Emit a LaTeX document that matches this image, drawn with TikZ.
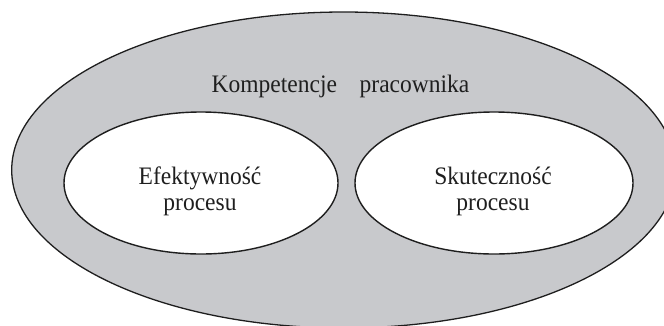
\documentclass[tikz,border=0pt]{standalone}
\usepackage{fontspec}
\setmainfont{Liberation Serif}
\usetikzlibrary{shapes.geometric}
\definecolor{fillgray}{RGB}{200,201,204}
\definecolor{edge}{RGB}{30,30,30}
\newcommand{\tallt}[1]{\scalebox{1}[1.07]{#1}}
\tikzset{
  outerell/.style={draw=edge, line width=1.3pt, fill=fillgray, ellipse, inner sep=0pt},
  innerell/.style={draw=edge, line width=1.4pt, fill=white, ellipse, inner sep=0pt},
  lbl/.style={font=\fontsize{23.5}{26}\selectfont, text=black!88, inner sep=0pt, anchor=base}
}
\begin{document}
\begin{tikzpicture}[x=1pt,y=-1pt]
\useasboundingbox (0,0) rectangle (664,325);
\clip (0,0) rectangle (664,325);
\node[outerell, minimum width=664pt, minimum height=316pt] (outer) at (343.7,170) {};
\node[innerell, minimum width=274pt, minimum height=142pt] (left) at (201,183) {};
\node[innerell, minimum width=278pt, minimum height=142pt] (right) at (494,183) {};
\node[lbl] (title) at (340.5,92) {\tallt{Kompetencje\hspace{22.7pt}pracownika}};
\node[lbl] (l1) at (200,184) {\tallt{Efektywność}};
\node[lbl] (l2) at (200,210.5) {\tallt{procesu}};
\node[lbl] (r1) at (493,184) {\tallt{Skuteczność}};
\node[lbl] (r2) at (493,210.5) {\tallt{procesu}};
\end{tikzpicture}
\end{document}
